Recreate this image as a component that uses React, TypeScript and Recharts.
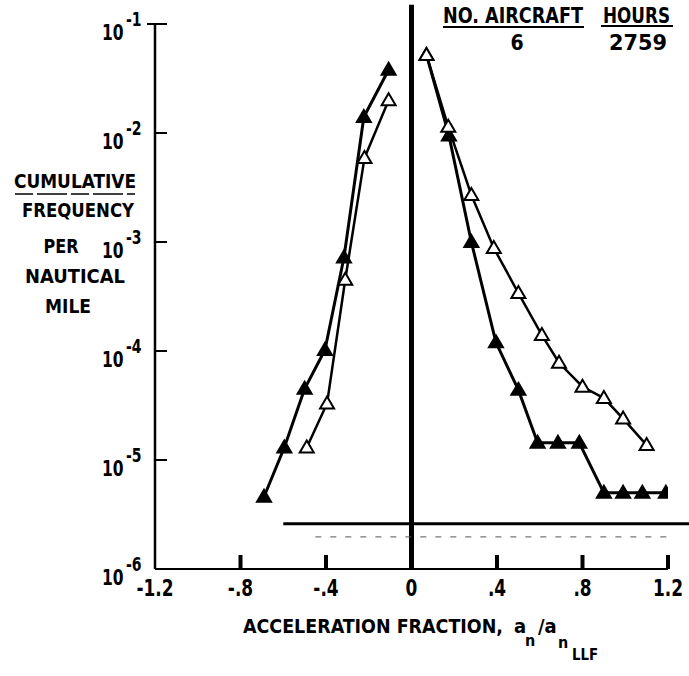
import { Line, LineChart, ReferenceLine, XAxis, YAxis } from "recharts";

const FONT = "'DejaVu Sans Condensed', 'Liberation Sans Narrow', 'DejaVu Sans', sans-serif";

// axis ticks
const xTicks = [-1.2, -0.8, -0.4, 0, 0.4, 0.8, 1.2];
const xTickLabels = ["-1.2", "-.8", "-.4", "0", ".4", ".8", "1.2"];
const yTicks = [1e-6, 1e-5, 1e-4, 1e-3, 1e-2, 1e-1];
const yTickExponents = ["-6", "-5", "-4", "-3", "-2", "-1"];

// negative accelerations, solid triangles
const negSolidX = [-0.107, -0.223, -0.316, -0.405, -0.5, -0.595, -0.69];
const negSolidY = [3.8e-2, 1.4e-2, 7.2e-4, 1.02e-4, 4.5e-5, 1.3e-5, 4.6e-6];
// negative accelerations, open triangles
const negOpenX = [-0.107, -0.22, -0.31, -0.395, -0.49];
const negOpenY = [2.0e-2, 5.9e-3, 4.5e-4, 3.3e-5, 1.3e-5];
// positive accelerations, solid triangles
const posSolidX = [0.07, 0.175, 0.28, 0.395, 0.5, 0.59, 0.685, 0.785, 0.9, 0.99, 1.08, 1.19];
const posSolidY = [5.2e-2, 9.5e-3, 1.0e-3, 1.2e-4, 4.4e-5, 1.44e-5, 1.44e-5, 1.44e-5, 5e-6, 5e-6, 5e-6, 5e-6];
// positive accelerations, open triangles
const posOpenX = [0.07, 0.172, 0.28, 0.385, 0.5, 0.61, 0.69, 0.8, 0.9, 0.99, 1.1];
const posOpenY = [5.2e-2, 1.14e-2, 2.7e-3, 8.8e-4, 3.4e-4, 1.4e-4, 7.8e-5, 4.7e-5, 3.7e-5, 2.4e-5, 1.37e-5];

// horizontal reference levels near the bottom
const refSolidLevel = 2.6e-6;
const refSolidRange = [-0.6, 1.3];
const refDashLevel = 1.97e-6;
const refDashRange = [-0.45, 1.2];

const zip = (xs: number[], ys: number[]) => xs.map((x, i) => ({ x, y: ys[i] }));

function Tri({ cx, cy, filled, index }: any) {
  if (cx == null || cy == null) return null;
  return (
    <path
      key={index}
      d={`M${cx},${cy - 7}L${cx + 7},${cy + 5}L${cx - 7},${cy + 5}Z`}
      fill={filled ? "#000" : "#fff"}
      stroke="#000"
      strokeWidth={2}
    />
  );
}

// squeezed text, the scan uses a narrow lettering
function Narrow({ x, y, size, anchor, children }: any) {
  return (
    <text
      transform={`translate(${x},${y}) scale(0.82,1)`}
      textAnchor={anchor || "start"}
      fontFamily={FONT}
      fontWeight="bold"
      fontSize={size}
      fill="#000"
    >
      {children}
    </text>
  );
}

function XTick({ x, y, payload, index }: any) {
  const i = xTicks.indexOf(payload.value);
  return (
    <g>
      {index > 0 && <line x1={x} y1={y} x2={x} y2={y - 14} stroke="#000" strokeWidth={4} />}
      <Narrow x={x} y={y + 27} size={23} anchor="middle">
        {xTickLabels[i]}
      </Narrow>
    </g>
  );
}

function YTick({ x, y, payload }: any) {
  const i = yTicks.indexOf(payload.value);
  return (
    <g>
      <line x1={x - (i === 5 ? 8 : 0)} y1={y} x2={x + 12} y2={y} stroke="#000" strokeWidth={2} />
      <Narrow x={x - 53} y={y + 16} size={21}>
        10
      </Narrow>
      <Narrow x={x - 29} y={y + 2} size={19}>
        {yTickExponents[i]}
      </Narrow>
    </g>
  );
}

export default function App() {
  const txt = { fontFamily: FONT, fontWeight: "bold" as const, fill: "#000" };
  return (
    <div style={{ position: "absolute", left: 0, top: 0, width: 689, height: 676, background: "#fff" }}>
      <LineChart width={689} height={676} margin={{ top: 24, right: 21, left: 154, bottom: 106 }}>
        <XAxis
          type="number"
          dataKey="x"
          domain={[-1.2, 1.2]}
          ticks={xTicks}
          tick={XTick}
          tickSize={0}
          tickMargin={0}
          tickLine={false}
          height={1}
          axisLine={{ stroke: "#000", strokeWidth: 2 }}
          allowDataOverflow
        />
        <YAxis
          type="number"
          dataKey="y"
          scale="log"
          domain={[1e-6, 1e-1]}
          ticks={yTicks}
          tick={YTick}
          tickSize={0}
          tickMargin={0}
          tickLine={false}
          width={1}
          axisLine={{ stroke: "#000", strokeWidth: 2.5 }}
          allowDataOverflow
        />
        <ReferenceLine
          segment={[{ x: 0, y: 1e-6 }, { x: 0, y: 0.15 }]}
          stroke="#000"
          strokeWidth={5}
          ifOverflow="visible"
        />
        <ReferenceLine
          segment={[{ x: refSolidRange[0], y: refSolidLevel }, { x: refSolidRange[1], y: refSolidLevel }]}
          stroke="#000"
          strokeWidth={3}
          ifOverflow="visible"
        />
        <ReferenceLine
          segment={[{ x: refDashRange[0], y: refDashLevel }, { x: refDashRange[1], y: refDashLevel }]}
          stroke="#555"
          strokeWidth={1}
          strokeDasharray="6 9"
          ifOverflow="visible"
        />
        <Line data={zip(negSolidX, negSolidY)} dataKey="y" stroke="#000" strokeWidth={3}
          dot={(p: any) => <Tri {...p} filled key={p.index} />} isAnimationActive={false} />
        <Line data={zip(negOpenX, negOpenY)} dataKey="y" stroke="#000" strokeWidth={2.5}
          dot={(p: any) => <Tri {...p} filled={false} key={p.index} />} isAnimationActive={false} />
        <Line data={zip(posSolidX, posSolidY)} dataKey="y" stroke="#000" strokeWidth={3}
          dot={(p: any) => <Tri {...p} filled key={p.index} />} isAnimationActive={false} />
        <Line data={zip(posOpenX, posOpenY)} dataKey="y" stroke="#000" strokeWidth={2.5}
          dot={(p: any) => <Tri {...p} filled={false} key={p.index} />} isAnimationActive={false} />
      </LineChart>
      <svg width={689} height={676} style={{ position: "absolute", left: 0, top: 0, pointerEvents: "none" }}>
        <g {...txt} fontSize={20} textAnchor="middle">
          <text x={75} y={188} textLength={122} lengthAdjust="spacingAndGlyphs">CUMULATIVE</text>
          <text x={78} y={217} textLength={112} lengthAdjust="spacingAndGlyphs">FREQUENCY</text>
          <text x={61} y={253} textLength={35} lengthAdjust="spacingAndGlyphs">PER</text>
          <text x={75} y={283} textLength={100} lengthAdjust="spacingAndGlyphs">NAUTICAL</text>
          <text x={68} y={313} textLength={46} lengthAdjust="spacingAndGlyphs">MILE</text>
        </g>
        <line x1={15} y1={194} x2={135} y2={194} stroke="#000" strokeWidth={1.5} strokeDasharray="18 4 30 4" />
        <g {...txt} fontSize={21}>
          <text x={443} y={23} textLength={140} lengthAdjust="spacingAndGlyphs">NO. AIRCRAFT</text>
          <text x={603} y={23} textLength={67} lengthAdjust="spacingAndGlyphs">HOURS</text>
          <text x={517} y={50} textAnchor="middle">6</text>
          <text x={638} y={50} textAnchor="middle" textLength={58} lengthAdjust="spacingAndGlyphs">2759</text>
        </g>
        <line x1={443} y1={27} x2={584} y2={27} stroke="#000" strokeWidth={2} />
        <line x1={601} y1={26} x2={673} y2={26} stroke="#000" strokeWidth={2} />
        <g {...txt} fontSize={20}>
          <text x={243} y={633} textLength={260} lengthAdjust="spacingAndGlyphs">ACCELERATION FRACTION,</text>
          <text x={514} y={633}>a</text>
          <text x={525} y={646} fontSize={16}>n</text>
          <text x={538} y={633}>/a</text>
          <text x={558} y={648} fontSize={16}>n</text>
          <text x={572} y={660} fontSize={15} textLength={26} lengthAdjust="spacingAndGlyphs">LLF</text>
        </g>
      </svg>
    </div>
  );
}
